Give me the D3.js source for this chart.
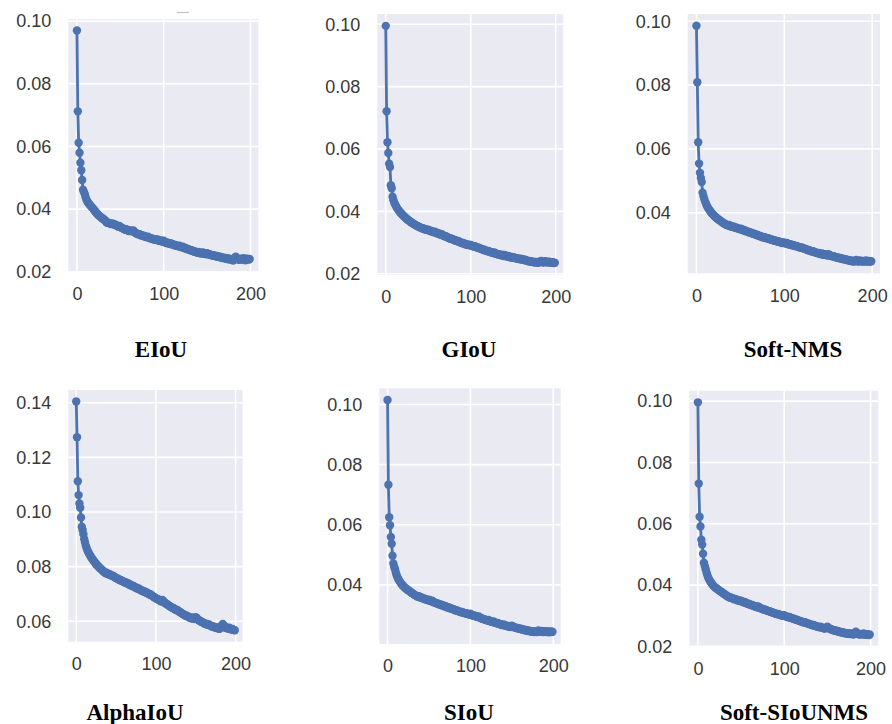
<!DOCTYPE html>
<html>
<head>
<meta charset="utf-8">
<script src="https://cdn.jsdelivr.net/npm/d3@7"></script>
<style>
  body { margin: 0; background: #fff; }
  svg { display: block; }
</style>
</head>
<body>
<svg id="chart" width="892" height="724"></svg>
<script>
// loss curves, one value per epoch (0..199)
var epochs = d3.range(0, 200);

var eiou = [
  .0970,.0712,.0612,.0580,.0548,.0524,.0493,.0462,.0455,.0448,
  .0438,.0430,.0424,.0420,.0416,.0413,.0410,.0407,.0404,.0400,
  .0396,.0393,.0389,.0386,.0383,.0380,.0378,.0376,.0373,.0371,
  .0369,.0367,.0365,.0362,.0358,.0356,.0357,.0356,.0354,.0352,
  .0353,.0354,.0352,.0350,.0351,.0349,.0347,.0345,.0344,.0346,
  .0343,.0341,.0340,.0338,.0337,.0335,.0334,.0336,.0333,.0331,
  .0330,.0332,.0331,.0329,.0330,.0332,.0328,.0325,.0323,.0322,
  .0321,.0319,.0320,.0318,.0316,.0317,.0315,.0313,.0314,.0312,
  .0311,.0310,.0312,.0309,.0308,.0306,.0307,.0305,.0304,.0303,
  .0304,.0302,.0301,.0303,.0300,.0299,.0298,.0300,.0297,.0296,
  .0299,.0295,.0293,.0292,.0294,.0291,.0290,.0289,.0291,.0288,
  .0287,.0288,.0286,.0284,.0285,.0283,.0282,.0281,.0283,.0280,
  .0279,.0278,.0280,.0277,.0275,.0276,.0274,.0272,.0273,.0271,
  .0270,.0268,.0269,.0267,.0266,.0264,.0265,.0263,.0262,.0261,
  .0263,.0260,.0259,.0261,.0258,.0262,.0260,.0257,.0258,.0256,
  .0259,.0257,.0255,.0256,.0254,.0253,.0252,.0253,.0251,.0250,
  .0251,.0249,.0248,.0250,.0247,.0246,.0247,.0245,.0244,.0245,
  .0243,.0244,.0242,.0241,.0243,.0240,.0241,.0239,.0240,.0241,
  .0236,.0240,.0245,.0248,.0244,.0241,.0239,.0238,.0240,.0242,
  .0239,.0241,.0243,.0240,.0237,.0241,.0242,.0240,.0239,.0241
];

var giou = [
  .0995,.0721,.0622,.0587,.0553,.0542,.0484,.0474,.0447,.0436,
  .0428,.0422,.0417,.0412,.0408,.0404,.0400,.0397,.0394,.0391,
  .0388,.0385,.0383,.0380,.0378,.0375,.0373,.0371,.0369,.0367,
  .0365,.0363,.0361,.0360,.0358,.0356,.0355,.0353,.0352,.0351,
  .0349,.0348,.0347,.0345,.0346,.0344,.0342,.0343,.0341,.0340,
  .0341,.0339,.0337,.0338,.0335,.0336,.0334,.0333,.0335,.0331,
  .0330,.0331,.0328,.0329,.0326,.0325,.0327,.0323,.0322,.0321,
  .0319,.0320,.0318,.0316,.0315,.0314,.0312,.0313,.0311,.0310,
  .0309,.0308,.0306,.0307,.0305,.0303,.0304,.0302,.0300,.0299,
  .0298,.0299,.0297,.0296,.0294,.0295,.0293,.0292,.0293,.0291,
  .0292,.0290,.0289,.0288,.0287,.0288,.0286,.0285,.0283,.0284,
  .0282,.0281,.0280,.0279,.0278,.0276,.0277,.0275,.0274,.0273,
  .0272,.0273,.0271,.0270,.0268,.0269,.0267,.0266,.0268,.0265,
  .0264,.0263,.0262,.0263,.0261,.0260,.0259,.0261,.0258,.0257,
  .0260,.0258,.0256,.0255,.0257,.0254,.0253,.0255,.0252,.0251,
  .0253,.0252,.0250,.0251,.0249,.0248,.0249,.0247,.0246,.0248,
  .0246,.0245,.0247,.0244,.0243,.0244,.0242,.0241,.0240,.0241,
  .0239,.0240,.0238,.0239,.0237,.0238,.0236,.0238,.0237,.0235,
  .0236,.0238,.0240,.0241,.0238,.0236,.0237,.0239,.0240,.0238,
  .0236,.0237,.0239,.0238,.0236,.0235,.0237,.0236,.0234,.0235
];

var softNms = [
  .0986,.0809,.0621,.0554,.0525,.0509,.0496,.0463,.0452,.0442,
  .0434,.0427,.0421,.0416,.0412,.0408,.0404,.0400,.0397,.0394,
  .0391,.0388,.0386,.0383,.0381,.0379,.0377,.0375,.0373,.0371,
  .0369,.0367,.0366,.0364,.0362,.0361,.0360,.0362,.0359,.0357,
  .0358,.0356,.0355,.0356,.0353,.0352,.0353,.0351,.0350,.0349,
  .0348,.0350,.0347,.0345,.0346,.0344,.0342,.0343,.0341,.0340,
  .0338,.0339,.0337,.0336,.0334,.0335,.0333,.0332,.0330,.0331,
  .0329,.0327,.0328,.0326,.0325,.0323,.0324,.0322,.0323,.0321,
  .0320,.0319,.0320,.0318,.0317,.0315,.0316,.0314,.0313,.0312,
  .0313,.0311,.0310,.0309,.0310,.0308,.0307,.0306,.0305,.0307,
  .0306,.0304,.0303,.0305,.0302,.0301,.0300,.0301,.0299,.0298,
  .0299,.0297,.0296,.0295,.0296,.0294,.0293,.0292,.0291,.0290,
  .0291,.0289,.0288,.0287,.0286,.0285,.0284,.0282,.0283,.0281,
  .0280,.0279,.0278,.0279,.0277,.0276,.0275,.0274,.0273,.0274,
  .0272,.0271,.0270,.0272,.0269,.0268,.0270,.0268,.0267,.0266,
  .0270,.0268,.0266,.0265,.0264,.0263,.0264,.0262,.0261,.0260,
  .0259,.0260,.0258,.0257,.0258,.0256,.0255,.0256,.0254,.0253,
  .0254,.0252,.0251,.0252,.0250,.0249,.0250,.0248,.0249,.0247,
  .0248,.0250,.0252,.0249,.0247,.0248,.0250,.0249,.0247,.0248,
  .0249,.0247,.0248,.0250,.0248,.0247,.0249,.0248,.0247,.0248
];

var alphaIou = [
  .1405,.1274,.1113,.1062,.1031,.1016,.0980,.0946,.0934,.0919,
  .0901,.0889,.0877,.0868,.0860,.0854,.0848,.0843,.0838,.0833,
  .0829,.0825,.0821,.0817,.0813,.0809,.0806,.0803,.0800,.0797,
  .0794,.0791,.0789,.0786,.0783,.0780,.0778,.0776,.0778,.0775,
  .0773,.0771,.0772,.0770,.0768,.0766,.0767,.0764,.0762,.0760,
  .0758,.0756,.0757,.0754,.0752,.0750,.0751,.0748,.0746,.0747,
  .0744,.0742,.0743,.0740,.0738,.0739,.0736,.0734,.0732,.0733,
  .0730,.0728,.0729,.0726,.0724,.0722,.0723,.0720,.0718,.0719,
  .0716,.0714,.0712,.0713,.0710,.0708,.0709,.0706,.0704,.0705,
  .0702,.0700,.0698,.0699,.0696,.0694,.0692,.0690,.0688,.0686,
  .0684,.0682,.0680,.0681,.0678,.0676,.0674,.0672,.0678,.0675,
  .0671,.0668,.0666,.0664,.0662,.0660,.0658,.0656,.0654,.0652,
  .0650,.0648,.0649,.0646,.0644,.0642,.0640,.0641,.0638,.0636,
  .0634,.0632,.0630,.0628,.0626,.0625,.0623,.0621,.0619,.0620,
  .0618,.0616,.0614,.0613,.0612,.0610,.0614,.0611,.0609,.0608,
  .0615,.0612,.0609,.0606,.0604,.0602,.0600,.0598,.0597,.0595,
  .0594,.0592,.0590,.0591,.0589,.0587,.0586,.0588,.0585,.0583,
  .0582,.0580,.0581,.0579,.0578,.0576,.0575,.0577,.0574,.0573,
  .0572,.0576,.0581,.0586,.0590,.0585,.0580,.0576,.0578,.0575,
  .0574,.0572,.0576,.0573,.0571,.0570,.0572,.0569,.0568,.0567
];

var siou = [
  .1015,.0733,.0625,.0598,.0559,.0537,.0497,.0471,.0460,.0452,
  .0441,.0432,.0425,.0419,.0414,.0410,.0406,.0402,.0399,.0396,
  .0393,.0390,.0388,.0386,.0384,.0382,.0380,.0378,.0376,.0374,
  .0372,.0370,.0368,.0366,.0365,.0363,.0361,.0360,.0362,.0359,
  .0358,.0356,.0357,.0355,.0354,.0352,.0353,.0351,.0350,.0349,
  .0351,.0348,.0346,.0345,.0347,.0344,.0342,.0341,.0340,.0339,
  .0338,.0337,.0336,.0334,.0335,.0333,.0331,.0332,.0330,.0328,
  .0329,.0327,.0325,.0326,.0324,.0322,.0323,.0321,.0320,.0319,
  .0318,.0317,.0315,.0316,.0314,.0313,.0312,.0311,.0310,.0309,
  .0310,.0308,.0307,.0306,.0305,.0306,.0304,.0303,.0302,.0301,
  .0304,.0301,.0299,.0298,.0297,.0298,.0296,.0295,.0294,.0293,
  .0295,.0292,.0290,.0289,.0288,.0287,.0286,.0285,.0284,.0283,
  .0282,.0281,.0283,.0280,.0279,.0278,.0277,.0276,.0278,.0275,
  .0274,.0273,.0272,.0273,.0271,.0270,.0269,.0268,.0267,.0266,
  .0268,.0266,.0265,.0264,.0263,.0262,.0263,.0261,.0260,.0262,
  .0264,.0262,.0260,.0259,.0258,.0257,.0256,.0257,.0255,.0254,
  .0253,.0254,.0252,.0251,.0252,.0250,.0249,.0250,.0248,.0247,
  .0248,.0246,.0247,.0245,.0246,.0244,.0245,.0243,.0244,.0245,
  .0243,.0246,.0248,.0246,.0244,.0245,.0247,.0245,.0243,.0244,
  .0246,.0244,.0243,.0245,.0244,.0242,.0244,.0245,.0243,.0244
];

var softSiouNms = [
  .0996,.0731,.0623,.0591,.0548,.0532,.0502,.0473,.0462,.0452,
  .0441,.0432,.0424,.0418,.0413,.0409,.0405,.0401,.0398,.0395,
  .0392,.0390,.0388,.0386,.0384,.0382,.0380,.0378,.0376,.0374,
  .0372,.0370,.0368,.0366,.0364,.0362,.0361,.0359,.0360,.0358,
  .0357,.0356,.0354,.0355,.0353,.0352,.0350,.0351,.0349,.0348,
  .0349,.0347,.0345,.0344,.0345,.0343,.0341,.0340,.0338,.0339,
  .0337,.0336,.0334,.0335,.0333,.0332,.0330,.0331,.0329,.0327,
  .0330,.0328,.0325,.0324,.0323,.0322,.0320,.0321,.0319,.0318,
  .0317,.0316,.0315,.0314,.0313,.0312,.0311,.0310,.0309,.0308,
  .0307,.0306,.0305,.0306,.0304,.0303,.0302,.0301,.0300,.0302,
  .0301,.0299,.0298,.0297,.0296,.0295,.0296,.0294,.0293,.0292,
  .0291,.0290,.0289,.0288,.0287,.0286,.0285,.0284,.0283,.0282,
  .0281,.0280,.0279,.0278,.0279,.0277,.0276,.0275,.0274,.0273,
  .0272,.0271,.0270,.0269,.0270,.0268,.0267,.0266,.0265,.0264,
  .0263,.0262,.0264,.0262,.0261,.0260,.0259,.0258,.0260,.0262,
  .0264,.0261,.0259,.0257,.0256,.0255,.0254,.0253,.0252,.0251,
  .0250,.0251,.0249,.0248,.0247,.0248,.0246,.0245,.0246,.0244,
  .0243,.0244,.0242,.0243,.0241,.0242,.0240,.0241,.0242,.0240,
  .0239,.0241,.0245,.0248,.0244,.0241,.0240,.0239,.0241,.0240,
  .0239,.0240,.0242,.0240,.0238,.0239,.0240,.0238,.0237,.0239
];

var titles = ["EIoU", "GIoU", "Soft-NMS", "AlphaIoU", "SIoU", "Soft-SIoUNMS"];
var seriesList = [eiou, giou, softNms, alphaIou, siou, softSiouNms];
var yTickCandidates = [0.02, 0.04, 0.06, 0.08, 0.10, 0.12, 0.14];
var xTicks = [0, 100, 200];

// plot boxes as placed in the figure [left, top, right, bottom], title centre
var panels = [
  { box: [68.3, 19, 258.3, 272],     tx: 161, ty: 349 },
  { box: [377.3, 14, 563.3, 275],    tx: 469, ty: 349 },
  { box: [687.7, 14, 880, 273.3],    tx: 793, ty: 349 },
  { box: [68.3, 390, 242.7, 641.7],  tx: 135, ty: 712 },
  { box: [379.3, 388.3, 560.7, 644], tx: 469, ty: 712 },
  { box: [689.3, 390.7, 878.3, 646.7], tx: 794, ty: 712 }
];

var blue = "#4c72b0";
var svg = d3.select("#chart");

// small stray mark above the first panel
svg.append("line")
  .attr("x1", 177).attr("x2", 189).attr("y1", 12.5).attr("y2", 12.5)
  .attr("stroke", "#c4c4c4").attr("stroke-width", 1.2);

panels.forEach(function(p, i){
  var data = seriesList[i];
  var b = p.box;
  var w = b[2] - b[0], h = b[3] - b[1];
  var ext = d3.extent(data);
  var pad = (ext[1] - ext[0]) * 0.05;
  var n = epochs.length - 1;

  var x = d3.scaleLinear().domain([-0.05 * n, n * 1.05]).range([0, w]);
  var y = d3.scaleLinear().domain([ext[0] - pad, ext[1] + pad]).range([h, 0]);
  var yTicks = yTickCandidates.filter(function(t){
    return t >= y.domain()[0] - 1e-9 && t <= y.domain()[1] + 1e-9;
  });

  var g = svg.append("g").attr("transform", "translate(" + b[0] + "," + b[1] + ")");

  g.append("rect").attr("width", w).attr("height", h).attr("fill", "#eaeaf2");

  // grid
  g.append("g").selectAll("line.gy").data(yTicks).enter().append("line")
    .attr("x1", 0).attr("x2", w)
    .attr("y1", function(d){ return y(d); }).attr("y2", function(d){ return y(d); })
    .attr("stroke", "#fff").attr("stroke-width", 1.6);
  g.append("g").selectAll("line.gx").data(xTicks).enter().append("line")
    .attr("y1", 0).attr("y2", h)
    .attr("x1", function(d){ return x(d); }).attr("x2", function(d){ return x(d); })
    .attr("stroke", "#fff").attr("stroke-width", 1.6);

  // axes (labels only)
  var ya = g.append("g").call(d3.axisLeft(y).tickValues(yTicks).tickSize(0).tickPadding(17)
    .tickFormat(d3.format(".2f")));
  var xa = g.append("g").attr("transform", "translate(0," + h + ")")
    .call(d3.axisBottom(x).tickValues(xTicks).tickSize(0).tickPadding(15.5)
    .tickFormat(d3.format("d")));
  [ya, xa].forEach(function(a){
    a.select(".domain").remove();
    a.selectAll("text")
      .attr("font-family", "Liberation Sans, Arial, sans-serif")
      .attr("font-size", 18).attr("fill", "#383838");
  });

  // series
  var line = d3.line()
    .x(function(d, j){ return x(epochs[j]); })
    .y(function(d){ return y(d); });
  g.append("path").datum(data)
    .attr("d", line).attr("fill", "none")
    .attr("stroke", blue).attr("stroke-width", 2.8);
  g.append("g").selectAll("circle").data(data).enter().append("circle")
    .attr("cx", function(d, j){ return x(epochs[j]); })
    .attr("cy", function(d){ return y(d); })
    .attr("r", 4.2).attr("fill", blue);

  // caption
  svg.append("text")
    .attr("x", p.tx).attr("y", p.ty)
    .attr("text-anchor", "middle").attr("dominant-baseline", "central")
    .attr("font-family", "Liberation Serif, Times New Roman, serif")
    .attr("font-weight", "bold").attr("font-size", 23).attr("fill", "#000")
    .text(titles[i]);
});
</script>
</body>
</html>
